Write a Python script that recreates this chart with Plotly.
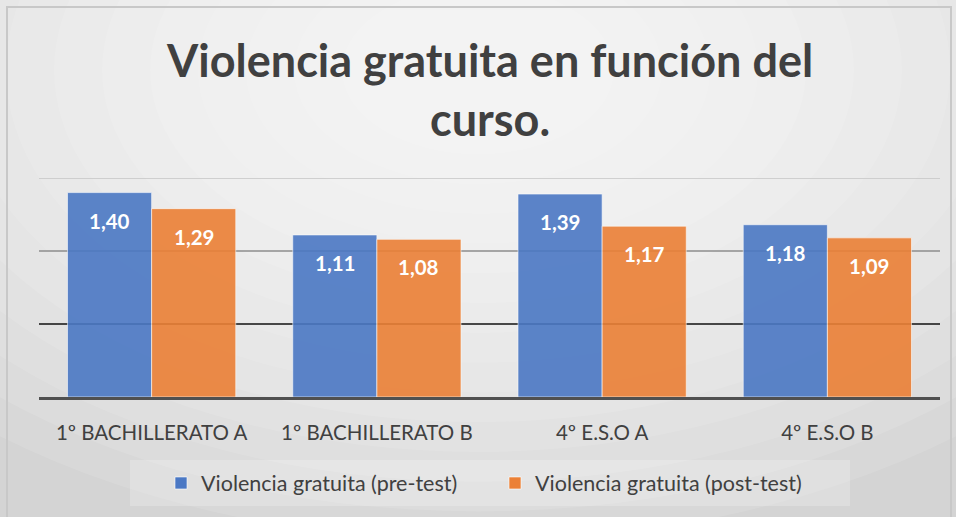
import plotly.graph_objects as go

# data
cursos = ["1º BACHILLERATO A", "1º BACHILLERATO B", "4º E.S.O A", "4º E.S.O B"]
pre_test = [1.40, 1.11, 1.39, 1.18]
post_test = [1.29, 1.08, 1.17, 1.09]
series_names = ["Violencia gratuita (pre-test)", "Violencia gratuita (post-test)"]
title_text = "Violencia gratuita en función del<br>curso."
grid_values = [0.5, 1.0, 1.5]
grid_colors = ["#111111", "#8c8c8c", "#c4c4c4"]

W, H = 956, 517
L, R, T, B = 39, 16, 178, 120
PW, PH = W - L - R, H - T - B
BARGAP = 0.253

BLUE = "#4B78C4"
ORANGE = "#EB8036"
TEXT = "#404040"
FONT = "Lato, Carlito, Calibri, sans-serif"


def px_x(px):
    return (px - L) / PW


def px_y(py):
    return (H - B - py) / PH


fig = go.Figure()
series = [(series_names[0], pre_test, BLUE), (series_names[1], post_test, ORANGE)]
for name, vals, color in series:
    fig.add_trace(go.Bar(
        name=name,
        x=cursos,
        y=vals,
        marker=dict(color=color, opacity=0.9, line=dict(color="rgba(255,255,255,0.6)", width=1)),
        hoverinfo="skip",
    ))

# value labels inside the top of each bar (comma decimals)
bar_px = PW / len(cursos) * (1 - BARGAP) / len(series)
annotations = []
for k, (name, vals, color) in enumerate(series):
    shift = (k - (len(series) - 1) / 2) * bar_px
    for cat, v in zip(cursos, vals):
        annotations.append(dict(
            x=cat, y=v, xref="x", yref="y",
            text=f"{v:.2f}".replace(".", ","),
            showarrow=False, xanchor="center", yanchor="top",
            xshift=shift, yshift=-14,
            font=dict(color="white", size=20.5, family=FONT, weight="bold"),
        ))

annotations.append(dict(
    x=0.5, y=px_y(89), xref="paper", yref="paper",
    text=title_text, showarrow=False, xanchor="center", yanchor="middle",
    font=dict(size=45, family=FONT, color=TEXT, weight="bold"),
))

shapes = []
# soft radial background, lighter near the title
cx, cy = 478, 70
n = 14
for i in range(n):
    rx = 760 - i * 48
    ry = rx * 0.62
    shapes.append(dict(
        type="circle", xref="paper", yref="paper", layer="below",
        x0=px_x(cx - rx), x1=px_x(cx + rx), y0=px_y(cy + ry), y1=px_y(cy - ry),
        fillcolor="rgba(255,255,255,0.11)", line=dict(width=0),
    ))
# legend band
shapes.append(dict(
    type="rect", xref="paper", yref="paper", layer="below",
    x0=px_x(130), x1=px_x(850), y0=px_y(506), y1=px_y(460),
    fillcolor="rgba(255,255,255,0.22)", line=dict(width=0),
))
# chart border
shapes.append(dict(
    type="rect", xref="paper", yref="paper", layer="below",
    x0=px_x(7), x1=px_x(951), y0=px_y(530), y1=px_y(7),
    fillcolor="rgba(0,0,0,0)", line=dict(color="#c8c8c8", width=2),
))
# gridlines
for gv, gc in zip(grid_values, grid_colors):
    shapes.append(dict(
        type="line", xref="paper", yref="y", layer="below",
        x0=0, x1=1, y0=gv, y1=gv, line=dict(color=gc, width=1.5),
    ))

fig.update_layout(
    width=W,
    height=H,
    margin=dict(l=L, r=R, t=T, b=B),
    paper_bgcolor="#d4d4d4",
    plot_bgcolor="rgba(0,0,0,0)",
    barmode="group",
    bargap=BARGAP,
    bargroupgap=0,
    font=dict(family=FONT, color=TEXT, size=20),
    showlegend=True,
    legend=dict(
        orientation="h",
        x=px_x(161), xanchor="left",
        y=px_y(483), yanchor="middle",
        bgcolor="rgba(0,0,0,0)",
        entrywidth=289,
        font=dict(size=21.5, color=TEXT, family=FONT),
        itemclick=False,
    ),
    annotations=annotations,
    shapes=shapes,
)
fig.update_xaxes(
    showline=True, linecolor="#505050", linewidth=3,
    ticks="outside", ticklen=15, tickcolor="rgba(0,0,0,0)",
    tickfont=dict(size=20.5, color=TEXT, family=FONT),
    showgrid=False,
)
fig.update_yaxes(range=[0, 1.5], showgrid=False, zeroline=False, showticklabels=False)

fig.write_html(
    "out.html",
    config={"displayModeBar": False},
    post_script="document.body.style.margin='0';",
)
